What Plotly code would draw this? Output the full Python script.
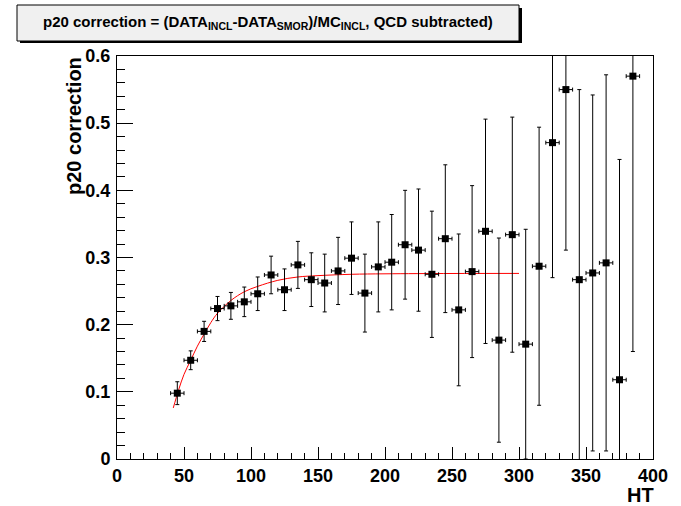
import plotly.graph_objects as go

# ---- data ----
ht = [45, 55, 65, 75, 85, 95, 105, 115, 125, 135, 145, 155, 165, 175, 185,
      195, 205, 215, 225, 235, 245, 255, 265, 275, 285, 295, 305, 315, 325,
      335, 345, 355, 365, 375, 385]
corr = [0.098, 0.147, 0.190, 0.224, 0.228, 0.234, 0.246, 0.274, 0.252, 0.289,
        0.267, 0.262, 0.280, 0.299, 0.247, 0.286, 0.293, 0.319, 0.311, 0.275,
        0.328, 0.222, 0.279, 0.339, 0.177, 0.334, 0.171, 0.287, 0.471, 0.550,
        0.267, 0.277, 0.292, 0.118, 0.570]
corr_err = [0.017, 0.014, 0.015, 0.018, 0.020, 0.022, 0.025, 0.028, 0.031, 0.035,
            0.040, 0.043, 0.050, 0.054, 0.058, 0.067, 0.071, 0.081, 0.091, 0.094,
            0.110, 0.113, 0.128, 0.167, 0.152, 0.175, 0.171, 0.207, 0.201, 0.239,
            0.283, 0.265, 0.280, 0.328, 0.410]
ht_halfwidth = [5] * len(ht)

fit_x = [42, 46, 50, 55, 60, 65, 70, 75, 85, 95, 105, 120, 135, 150, 175, 200, 250, 300]
fit_y = [0.076, 0.103, 0.126, 0.147, 0.168, 0.186, 0.203, 0.217, 0.236, 0.249,
         0.257, 0.266, 0.271, 0.273, 0.275, 0.2757, 0.2762, 0.2763]

x_ticks = [0, 50, 100, 150, 200, 250, 300, 350, 400]
x_ticklabels = ["0", "50", "100", "150", "200", "250", "300", "350", "400"]
y_ticks = [0, 0.1, 0.2, 0.3, 0.4, 0.5, 0.6]
y_ticklabels = ["0", "0.1", "0.2", "0.3", "0.4", "0.5", "0.6"]

# ---- layout geometry (pixels) ----
W, H = 681, 506
L, R, T, B = 117, 653, 56, 459
PW, PH = R - L, B - T


def px(x):
    return (x - L) / PW


def py(y):
    return (B - y) / PH


FONT = "Liberation Sans, Arial, Helvetica, sans-serif"

fig = go.Figure()

fig.add_trace(go.Scatter(
    x=fit_x, y=fit_y, mode="lines", line=dict(color="red", width=1, shape="spline"),
    hoverinfo="skip", showlegend=False,
))

fig.add_trace(go.Scatter(
    x=ht, y=corr, mode="markers",
    marker=dict(symbol="square", size=7, color="black"),
    error_y=dict(type="data", array=corr_err, visible=True, color="black",
                 thickness=1, width=2),
    error_x=dict(type="data", array=ht_halfwidth, visible=True, color="black",
                 thickness=1, width=2),
    showlegend=False,
))

fig.update_layout(
    width=W, height=H,
    margin=dict(l=L, r=W - R, t=T, b=H - B, pad=0),
    paper_bgcolor="white", plot_bgcolor="white",
    font=dict(family=FONT, color="black"),
    xaxis=dict(
        range=[0, 400], tickvals=x_ticks,
        ticktext=["<b>%s</b>" % t for t in x_ticklabels],
        ticks="inside", ticklen=12, tickwidth=1,
        tickcolor="black", showline=True, linecolor="black", linewidth=1,
        mirror=True, showgrid=False, zeroline=False,
        tickfont=dict(family=FONT, size=18),
        minor=dict(dtick=10, ticks="inside", ticklen=6, tickcolor="black", showgrid=False),
    ),
    yaxis=dict(
        range=[0, 0.6], tickvals=y_ticks,
        ticktext=["<b>%s</b>" % t for t in y_ticklabels],
        ticks="inside", ticklabelstandoff=2,
        ticklen=16, tickwidth=1, tickcolor="black", showline=True, linecolor="black",
        linewidth=1, mirror=True, showgrid=False, zeroline=False,
        tickfont=dict(family=FONT, size=18),
        minor=dict(dtick=0.02, ticks="inside", ticklen=8, tickcolor="black", showgrid=False),
    ),
    shapes=[
        dict(type="rect", xref="paper", yref="paper", x0=px(20), x1=px(522),
             y0=py(43), y1=py(8), fillcolor="black", line=dict(width=0), layer="above"),
        dict(type="rect", xref="paper", yref="paper", x0=px(17), x1=px(519),
             y0=py(41), y1=py(5), fillcolor="#f0f0f0",
             line=dict(color="black", width=1), layer="above"),
    ],
    annotations=[
        dict(text="<b>p20 correction = (DATA<sub>INCL</sub>-DATA<sub>SMOR</sub>)/MC<sub>INCL</sub>, QCD subtracted)</b>",
             xref="paper", yref="paper", x=px(268), y=py(22), xanchor="center",
             yanchor="middle", showarrow=False, font=dict(family=FONT, size=15)),
        dict(text="<b>p20 correction</b>", textangle=-90, xref="paper", yref="paper",
             x=px(74), y=py(55), xanchor="center", yanchor="top", showarrow=False,
             font=dict(family=FONT, size=20)),
        dict(text="<b>HT</b>", xref="paper", yref="paper", x=px(656), y=py(495),
             xanchor="right", yanchor="middle", showarrow=False,
             font=dict(family=FONT, size=20)),
    ],
)

fig.write_html("out.html")
